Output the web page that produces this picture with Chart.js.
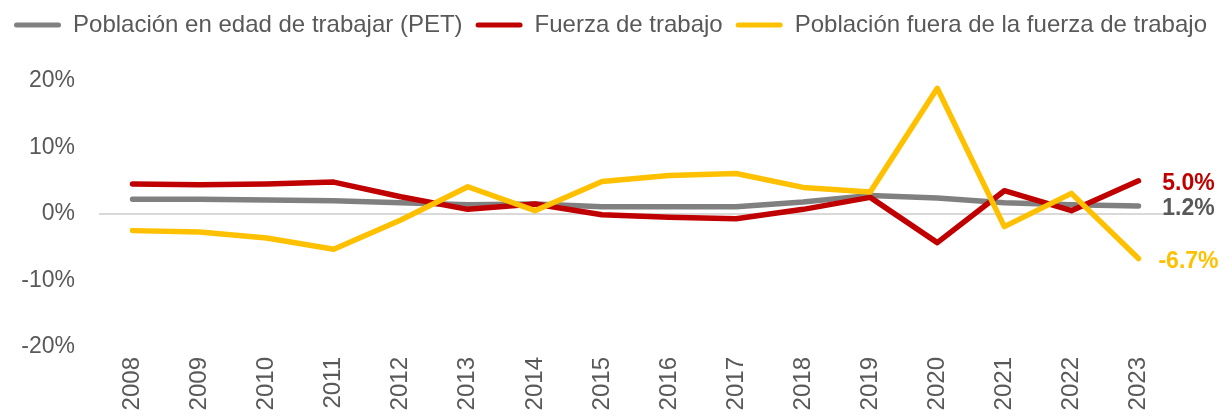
<!DOCTYPE html>
<html>
<head>
<meta charset="utf-8">
<script src="https://cdn.jsdelivr.net/npm/chart.js@4.4.1/dist/chart.umd.min.js"></script>
<style>
  html, body { margin: 0; padding: 0; background: #fff; }
  #wrap { width: 1221px; height: 418px; position: relative; }
</style>
</head>
<body>
<div id="wrap"><canvas id="chart"></canvas></div>
<script>
const YEARS = ["2008", "2009", "2010", "2011", "2012", "2013", "2014", "2015", "2016", "2017", "2018", "2019", "2020", "2021", "2022", "2023"];
const PET = [2.2, 2.2, 2.1, 2.0, 1.7, 1.4, 1.5, 1.1, 1.1, 1.1, 1.8, 2.8, 2.4, 1.7, 1.4, 1.2];
const FUERZA = [4.5, 4.4, 4.5, 4.8, 2.6, 0.7, 1.5, -0.1, -0.5, -0.7, 0.7, 2.5, -4.3, 3.5, 0.5, 5.0];
const FUERA = [-2.5, -2.7, -3.6, -5.3, -0.9, 4.1, 0.5, 4.9, 5.8, 6.1, 4.0, 3.3, 18.9, -1.9, 3.1, -6.7];
const Y_TICKS = [-20, -10, 0, 10, 20];

const TXT = "#595959";
const FONT = "'Liberation Sans', Arial, sans-serif";

// value label right of the last point of each series
const endLabels = {
  id: "endLabels",
  afterDatasetsDraw(chart) {
    const ctx = chart.ctx;
    ctx.save();
    ctx.font = "bold 23px " + FONT;
    ctx.textAlign = "center";
    ctx.textBaseline = "middle";
    chart.data.datasets.forEach((ds, i) => {
      const pts = chart.getDatasetMeta(i).data;
      const p = pts[pts.length - 1];
      const v = ds.data[ds.data.length - 1];
      ctx.fillStyle = ds.labelColor;
      ctx.fillText(v.toFixed(1) + "%", p.x + 50, p.y + 3);
    });
    ctx.restore();
  }
};

const legendSpace = {
  id: "legendSpace",
  beforeInit(chart) {
    const fit = chart.legend.fit;
    chart.legend.fit = function () {
      fit.bind(chart.legend)();
      this.height = 81;
    };
  }
};

const lineStyle = { borderWidth: 5.5, pointRadius: 0, tension: 0, borderCapStyle: "round", borderJoinStyle: "round", fill: false };

new Chart(document.getElementById("chart"), {
  type: "line",
  data: {
    labels: YEARS,
    datasets: [
      { label: "Población en edad de trabajar (PET)", data: PET, borderColor: "#808080", labelColor: "#595959", order: 3, ...lineStyle },
      { label: "Fuerza de trabajo", data: FUERZA, borderColor: "#C00000", labelColor: "#C00000", order: 2, ...lineStyle },
      { label: "Población fuera de la fuerza de trabajo", data: FUERA, borderColor: "#FFC000", labelColor: "#FFC000", order: 1, ...lineStyle },
    ],
  },
  options: {
    responsive: true,
    maintainAspectRatio: false,
    animation: false,
    layout: { padding: 0 },
    scales: {
      x: {
        offset: true,
        grid: { display: false, drawTicks: false },
        border: { display: false },
        ticks: { color: TXT, font: { family: FONT, size: 24 }, minRotation: 90, maxRotation: 90, padding: 10, autoSkip: false },
        afterFit(scale) { scale.height = 71; },
      },
      y: {
        min: -20, max: 20,
        afterBuildTicks(scale) { scale.ticks = Y_TICKS.map(v => ({ value: v })); },
        grid: { drawTicks: false, lineWidth: 2, color: c => c.tick.value === 0 ? "#D9D9D9" : "rgba(0,0,0,0)" },
        border: { display: false },
        ticks: { color: TXT, font: { family: FONT, size: 23 }, padding: 24, callback: v => v + "%" },
        afterFit(scale) { scale.width = 99; },
      },
      // empty right axis: room for the end labels
      yr: {
        position: "right",
        min: -20, max: 20,
        grid: { display: false, drawTicks: false },
        border: { display: false },
        ticks: { display: false },
        afterFit(scale) { scale.width = 49; },
      },
    },
    plugins: {
      legend: {
        position: "top",
        align: "center",
        labels: {
          color: TXT, font: { family: FONT, size: 24 },
          boxWidth: 47, boxHeight: 5, padding: 13,
          useBorderRadius: true, borderRadius: 2.5,
          sort: (a, b) => a.datasetIndex - b.datasetIndex,
          generateLabels(chart) {
            return Chart.defaults.plugins.legend.labels.generateLabels(chart).map(l => ({ ...l, fillStyle: l.strokeStyle, lineWidth: 0 }));
          },
        },
      },
      tooltip: { enabled: false },
    },
  },
  plugins: [endLabels, legendSpace],
});
</script>
</body>
</html>
